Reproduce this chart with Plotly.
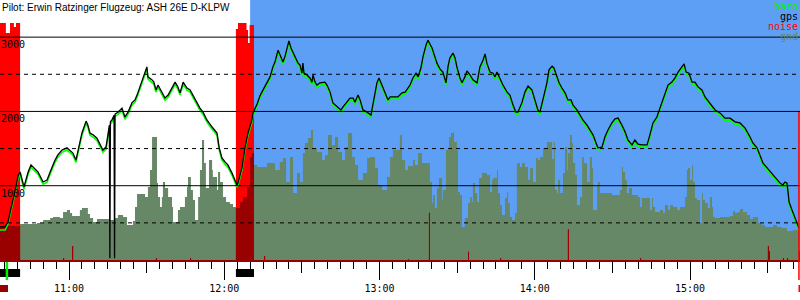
import numpy as np
import plotly.graph_objects as go
from datetime import datetime, timedelta

# ---------------- data ----------------
DAY = datetime(2012, 6, 1, 10, 0, 0)   # minutes below are counted from 10:00

title_text = "Pilot: Erwin Ratzinger Flugzeug: ASH 26E D-KLPW"
legend_items = ["baro", "gps", "noise", "gnd"]

# GPS fixes: minutes after 10:00, gps altitude [m], baro altitude [m]
fix_min = [33.3, 35.3, 36.4, 38.0, 39.5, 40.3, 41.1, 42.6, 44.2, 45.3, 46.1, 48.0, 50.0, 51.5, 52.7, 53.8,
           54.6, 55.7, 57.3, 59.2, 60.4, 61.5, 62.7, 63.9, 65.0, 66.6, 67.3, 68.1, 69.3, 70.8, 72.0, 73.1,
           74.3, 75.1, 75.6, 75.8, 76.0, 76.6, 77.4, 77.6, 77.8, 78.9, 80.5, 81.6, 82.8, 84.3, 85.5, 86.3,
           87.4, 88.2, 89.4, 90.1, 90.5, 92.1, 92.8, 93.6, 94.4, 95.9, 97.1, 98.3, 99.8, 101.0, 102.1, 102.9,
           104.1, 105.6, 106.8, 107.9, 109.5, 110.6, 111.8, 113.3, 115.3, 117.2, 118.0, 119.1, 120.3, 121.4,
           123.0, 124.1, 124.9, 125.3, 126.9, 128.0, 129.2, 130.7, 131.1, 132.7, 133.8, 135.0, 136.5, 137.7,
           138.8, 139.6, 140.8, 141.5, 142.3, 142.7, 143.5, 144.2, 145.0, 145.8, 146.6, 147.3, 148.5, 149.3,
           150.0, 150.4, 150.8, 152.0, 153.1, 153.9, 154.3, 155.1, 155.8, 157.0, 158.9, 159.7, 160.9, 162.0,
           163.6, 165.1, 165.9, 167.4, 168.6, 169.8, 170.5, 171.7, 172.5, 173.6, 175.2, 176.7, 177.5, 178.3,
           179.0, 179.8, 180.6, 182.1, 183.3, 184.1, 186.0, 187.1, 188.7, 189.9, 191.8, 192.9, 194.1, 194.9,
           196.0, 196.8, 198.0, 198.7, 200.3, 201.4, 202.2, 203.4, 204.5, 205.7, 206.5, 207.2, 208.4, 209.2,
           209.9, 211.1, 211.9, 213.0, 213.8, 215.0, 216.1, 217.7, 218.8, 220.0, 220.8, 221.5, 222.7, 223.9,
           224.6, 225.4, 226.6, 227.7, 229.3, 230.4, 231.6, 232.7, 233.5, 235.1, 236.2, 237.4, 238.9, 240.1,
           241.2, 242.0, 243.2, 244.7, 245.5, 246.7, 247.4, 248.6, 249.4, 250.5, 251.7, 252.8, 254.0, 254.8,
           256.3, 257.5, 258.6, 260.2, 261.3, 262.5, 263.7, 264.4, 266.0, 267.1, 268.3, 269.8, 271.0, 272.2,
           273.7, 274.9, 276.0, 277.6, 278.7, 279.9, 281.4, 283.4, 284.5, 285.7, 287.2, 288.4, 289.6, 290.3,
           291.5, 293.0, 294.2, 295.4, 296.9, 297.7, 298.5, 299.6, 300.8, 301.9, 303.1, 304.6, 305.8, 307.7,
           309.7, 311.6, 313.5, 315.5, 317.4, 319.3, 321.3, 323.2, 324.3, 325.9, 327.0, 328.2, 329.8, 331.7,
           333.6, 334.8, 335.9, 336.7, 337.5, 337.9, 338.3, 339.4, 340.6, 341.4, 342.1]
gps_alt = [445, 445, 510, 740, 985, 1130, 1185, 985, 1185, 1280, 1250, 1185, 1050, 1075, 1185, 1280,
           1345, 1415, 1480, 1510, 1480, 1440, 1345, 1520, 1710, 1870, 1815, 1710, 1685, 1640, 1550, 1480,
           1520, 1685, 1815, 25, 1860, 1885, 1950, 25, 1965, 1990, 2045, 1925, 1990, 2115, 2155, 2220,
           2330, 2425, 2560, 2600, 2465, 2425, 2395, 2290, 2355, 2260, 2180, 2220, 2315, 2395, 2330, 2250,
           2395, 2315, 2290, 2220, 2115, 2045, 1990, 1885, 1790, 1710, 1520, 1375, 1320, 1280,
           1170, 1075, 1010, 1035, 1250, 1510, 1710, 1885, 1980, 2100, 2210, 2290, 2385, 2465,
           2600, 2665, 2825, 2760, 2690, 2665, 2745, 2855, 2950, 2855, 2800, 2735, 2650, 2625,
           2515, 2650, 2515, 2490, 2450, 2395, 2490, 2395, 2355, 2385, 2395, 2355, 2260, 2115,
           2060, 2020, 2060, 2125, 2180, 2180, 2125, 2220, 2155, 2020, 1990, 1950, 2115, 2250,
           2385, 2450, 2385, 2260, 2155, 2195, 2195, 2195, 2250, 2260, 2355, 2450, 2515, 2465,
           2585, 2735, 2895, 2960, 2855, 2735, 2650, 2570, 2530, 2385, 2610, 2720, 2785, 2720,
           2600, 2450, 2385, 2465, 2545, 2490, 2425, 2385, 2600, 2690, 2775, 2650, 2530, 2515,
           2465, 2530, 2425, 2355, 2260, 2220, 2085, 1990, 1990, 2125, 2260, 2340, 2290, 2155,
           2020, 1990, 2155, 2385, 2560, 2610, 2585, 2450, 2385, 2315, 2250, 2155, 2155, 2085,
           2020, 1950, 1885, 1815, 1750, 1685, 1575, 1510, 1520, 1655, 1750, 1845, 1900, 1910,
           1815, 1725, 1615, 1550, 1615, 1560, 1550, 1550, 1685, 1845, 1925, 2045, 2180, 2260,
           2355, 2395, 2450, 2530, 2600, 2640, 2530, 2515, 2395, 2395, 2330, 2290, 2195, 2115,
           2020, 1980, 1910, 1910, 1860, 1845, 1775, 1655, 1575, 1510, 1415, 1305, 1240, 1160,
           1075, 1035, 1010, 1050, 1035, 940, 780, 675, 565, 500, 430]
baro_alt = [404, 404, 480, 710, 955, 1100, 1155, 955, 1155, 1250, 1220, 1155, 1020, 1045, 1155, 1250,
            1315, 1385, 1450, 1480, 1450, 1410, 1315, 1490, 1680, 1840, 1785, 1680, 1655, 1610, 1520, 1450,
            1490, 1655, 1785, 1800, 1830, 1855, 1920, 1925, 1935, 1960, 2015, 1895, 1960, 2085, 2125, 2190,
            2300, 2395, 2530, 2570, 2435, 2395, 2365, 2260, 2325, 2230, 2150, 2190, 2285, 2365, 2300, 2220,
            2365, 2285, 2260, 2190, 2085, 2015, 1960, 1855, 1760, 1680, 1490, 1345, 1290, 1250,
            1140, 1045, 980, 1005, 1220, 1480, 1680, 1855, 1950, 2070, 2180, 2260, 2355, 2435,
            2570, 2635, 2795, 2730, 2660, 2635, 2715, 2825, 2920, 2825, 2770, 2705, 2620, 2595,
            2485, 2620, 2485, 2460, 2420, 2365, 2460, 2365, 2325, 2355, 2365, 2325, 2230, 2085,
            2030, 1990, 2030, 2095, 2150, 2150, 2095, 2190, 2125, 1990, 1960, 1920, 2085, 2220,
            2355, 2420, 2355, 2230, 2125, 2165, 2165, 2165, 2220, 2230, 2325, 2420, 2485, 2435,
            2555, 2705, 2865, 2930, 2825, 2705, 2620, 2540, 2500, 2355, 2580, 2690, 2755, 2690,
            2570, 2420, 2355, 2435, 2515, 2460, 2395, 2355, 2570, 2660, 2745, 2620, 2500, 2485,
            2435, 2500, 2395, 2325, 2230, 2190, 2055, 1960, 1960, 2095, 2230, 2310, 2260, 2125,
            1990, 1960, 2125, 2355, 2530, 2580, 2555, 2420, 2355, 2285, 2220, 2125, 2125, 2055,
            1990, 1920, 1855, 1785, 1720, 1655, 1545, 1480, 1490, 1625, 1720, 1815, 1870, 1880,
            1785, 1695, 1585, 1520, 1585, 1530, 1520, 1520, 1655, 1815, 1895, 2015, 2150, 2230,
            2325, 2365, 2420, 2500, 2570, 2610, 2500, 2485, 2365, 2365, 2300, 2260, 2165, 2085,
            1990, 1950, 1880, 1880, 1830, 1815, 1745, 1625, 1545, 1480, 1385, 1275, 1210, 1130,
            1045, 1005, 980, 1020, 1005, 910, 750, 645, 535, 470, 400]

# terrain height under the track (step values starting at each time)
gnd_min = [33.3, 41.1, 47.6, 50.0, 52.7, 53.8, 56.5, 57.7, 59.2, 60.4, 61.2, 64.2, 65.0, 67.3, 68.1, 69.3,
           70.8, 75.8, 77.8, 78.9, 80.9, 82.4, 84.7, 85.5, 86.3, 89.4, 90.5, 91.3, 92.1, 94.0, 94.4, 95.2,
           95.9, 96.3, 97.1, 98.3, 99.8, 100.2, 102.1, 102.9, 104.8, 105.6, 106.0, 107.1, 107.9, 108.7,
           109.9, 110.6, 111.4, 112.2, 112.9, 114.1, 115.3, 115.6, 117.2, 117.6, 118.4, 119.5, 120.7, 122.2,
           123.4, 124.5, 126.1, 127.2, 128.8, 130.0, 130.7, 131.5, 132.7, 136.5, 139.6, 141.5, 142.7, 143.9,
           145.4, 146.6, 148.1, 149.3, 150.4, 151.2, 152.4, 153.5, 154.3, 155.8, 157.8, 158.9, 160.1, 161.6,
           162.8, 164.0, 165.5, 166.7, 167.8, 169.4, 170.5, 171.7, 173.6, 175.2, 176.3, 178.3, 179.4, 181.0,
           182.9, 184.1, 185.2, 187.9, 188.7, 189.9, 191.0, 193.0, 193.7, 194.9, 196.4, 199.5, 200.3, 200.7,
           201.4, 202.2, 203.0, 204.2, 204.5, 205.7, 206.9, 207.6, 208.4, 208.8, 209.9, 210.3, 211.1, 211.9,
           213.0, 214.2, 215.0, 215.7, 216.1, 216.9, 217.7, 218.5, 219.6, 221.5, 222.7, 223.5, 223.9, 225.4,
           225.8, 226.6, 227.3, 228.5, 229.3, 229.7, 230.4, 231.2, 232.4, 233.1, 234.3, 235.1, 236.2, 237.4,
           238.2, 239.3, 240.5, 241.3, 242.0, 243.2, 244.7, 246.7, 247.4, 247.8, 248.6, 249.0, 249.8, 250.9,
           251.7, 252.5, 252.8, 253.6, 254.4, 254.8, 255.6, 256.3, 257.5, 258.3, 259.0, 260.2, 261.3, 262.1,
           262.5, 264.1, 264.4, 265.2, 269.8, 272.9, 273.7, 274.1, 274.9, 275.6, 276.4, 277.6, 279.9, 280.7,
           281.4, 284.5, 285.3, 285.7, 286.5, 288.4, 289.6, 290.3, 291.5, 292.3, 293.4, 295.0, 296.1, 298.1,
           298.8, 299.2, 300.0, 300.8, 301.2, 301.9, 302.7, 303.9, 304.6, 305.0, 305.8, 306.9, 307.7, 308.5,
           308.9, 309.7, 311.6, 315.5, 316.6, 317.4, 318.5, 319.3, 320.5, 322.0, 323.2, 324.3, 326.3, 327.8,
           329.0, 332.1, 333.6, 335.5, 337.5, 339.8, 341.4, 342.5]
gnd_alt = [458, 485, 498, 538, 565, 579, 565, 646, 673, 633, 592, 673, 700, 619, 565, 512,
           552, 538, 565, 606, 579, 471, 525, 713, 888, 848, 983, 1211, 1656, 1037, 848, 713,
           848, 1050, 969, 848, 713, 512, 673, 713, 848, 983, 1117, 942, 808, 538,
           848, 1211, 1615, 1306, 969, 1346, 1211, 1117, 942, 1185, 1050, 848, 781, 754,
           713, 700, 781, 848, 983, 1387, 1440, 1279, 1252, 1306, 1211, 1319, 1373, 1050,
           1387, 902, 1171, 1050, 1440, 1575, 1642, 1750, 1508, 1454, 1346, 1413, 1683, 1548,
           1656, 1454, 1346, 1521, 1710, 1387, 1279, 1077, 1171, 1373, 1387, 1238, 1010, 942,
           1117, 1387, 1481, 1683, 1346, 1211, 1265, 1346, 1279, 1440, 1306, 1050, 767, 875,
           700, 969, 1104, 808, 942, 1481, 1656, 1710, 1723, 1588, 1481, 915, 875, 444,
           565, 767, 848, 781, 1037, 902, 781, 1104, 1171, 1144, 915, 1077, 1104, 1211,
           902, 740, 606, 835, 915, 767, 579, 538, 633, 1306, 1252, 1306, 1252, 1077,
           1238, 1050, 1373, 1346, 1387, 1508, 1588, 1360, 1588, 942, 902, 1077, 902, 1171,
           1521, 1211, 1440, 1683, 1575, 1306, 1144, 740, 848, 1387, 1306, 1050, 1387, 1238,
           673, 1010, 1050, 902, 875, 942, 1252, 1185, 1077, 902, 969, 875, 848, 713,
           835, 673, 835, 713, 646, 673, 633, 740, 673, 740, 713, 673, 713, 848,
           1211, 1238, 1077, 1279, 1050, 835, 808, 498, 902, 808, 767, 700, 848, 713,
           579, 565, 579, 592, 660, 633, 646, 687, 646, 606, 552, 579, 498, 471,
           444, 471, 444, 431, 390, 404, 431, 431]

# engine noise level (step values starting at each time)
noise_min = [33.3, 35.6, 37.2, 38.7, 39.5, 41.1, 57.7, 58.1, 61.2, 61.6, 93.6, 94.0, 106.8, 107.2,
             124.5, 125.3, 128.6, 129.2, 129.8, 131.5, 135.4, 135.8, 191.0, 191.4, 199.1, 199.5,
             214.2, 214.6, 226.6, 227.0, 252.8, 253.2, 280.7, 281.1, 330.1, 330.5, 330.9, 335.9, 336.3,
             337.5, 337.9, 342.1, 342.5]
noise_val = [3190, 3055, 3190, 3135, 3190, 0, 27, 0, 190, 0, 27, 0, 27, 0,
             3110, 3190, 3095, 2920, 3165, 0, 55, 0, 15, 0, 635, 0,
             110, 0, 27, 0, 415, 0, 27, 0, 190, 120, 0, 27, 0,
             27, 0, 120, 0]

engine_runs = [(33.3, 41.1), (124.5, 131.5)]   # engine running (lower strip)
takeoff_min = 36.0
task_start_min = 130.0
cursor_min = 342.1
view_min = (33.33, 342.51)

grid_solid = [1000, 2000, 3000]
grid_dashed = [500, 1500, 2500]

# ---------------- helpers ----------------
def tm(m):
    return DAY + timedelta(minutes=float(m))

def times(ms):
    return [tm(m) for m in ms]

def step_eval(ts, vs, q):
    ts = np.asarray(ts, float)
    vs = np.asarray(vs, float)
    idx = np.clip(np.searchsorted(ts, q, side="right") - 1, 0, len(vs) - 1)
    out = vs[idx].copy()
    out[q < ts[0]] = 0
    return out

bp = np.union1d(noise_min, gnd_min)
overlap = np.minimum(step_eval(noise_min, noise_val, bp), step_eval(gnd_min, gnd_alt, bp))

# ---------------- figure ----------------
MONO = "DejaVu Sans Mono"
H = 300.0
fig = go.Figure()

fig.add_trace(go.Scatter(x=times(gnd_min), y=gnd_alt, mode="lines",
                         line=dict(width=0, shape="hv"), fill="tozeroy",
                         fillcolor="#668866", hoverinfo="skip"))
fig.add_trace(go.Scatter(x=times(noise_min), y=noise_val, mode="lines",
                         line=dict(width=0, shape="hv"), fill="tozeroy",
                         fillcolor="#ff0000", hoverinfo="skip"))
fig.add_trace(go.Scatter(x=times(bp), y=overlap, mode="lines",
                         line=dict(width=0, shape="hv"), fill="tozeroy",
                         fillcolor="#990000", hoverinfo="skip"))
fig.add_trace(go.Scatter(x=times(fix_min), y=baro_alt, mode="lines",
                         line=dict(color="#00ff00", width=1.6), hoverinfo="skip"))
fig.add_trace(go.Scatter(x=times(fix_min), y=gps_alt, mode="lines",
                         line=dict(color="black", width=1.3), hoverinfo="skip"))
# carrier for the half-hour tick axis
fig.add_trace(go.Scatter(x=[tm(view_min[0]), tm(view_min[1])], y=[0, 0], mode="lines",
                         line=dict(width=0), xaxis="x2", yaxis="y", hoverinfo="skip"))

shapes = []
shapes.append(dict(type="rect", xref="x", yref="y domain", x0=tm(task_start_min), x1=tm(view_min[1]),
                   y0=0, y1=1, fillcolor="#5e9ff6", line=dict(width=0), layer="below"))
for lv in grid_solid:
    shapes.append(dict(type="line", xref="paper", yref="y", x0=0, x1=1, y0=lv, y1=lv,
                       line=dict(color="black", width=1), layer="above"))
for lv in grid_dashed:
    shapes.append(dict(type="line", xref="paper", yref="y", x0=0, x1=1, y0=lv, y1=lv,
                       line=dict(color="black", width=1, dash="4px,4px"), layer="above"))
for a, b in engine_runs:
    shapes.append(dict(type="rect", xref="x", yref="paper", x0=tm(a), x1=tm(b),
                       y0=1 - 277 / H, y1=1 - 269 / H, fillcolor="black", line=dict(width=0)))
shapes.append(dict(type="line", xref="x", yref="paper", x0=tm(takeoff_min), x1=tm(takeoff_min),
                   y0=1 - 280 / H, y1=1 - 262 / H, line=dict(color="#00ee00", width=2.5)))
shapes.append(dict(type="line", xref="x", yref="paper", x0=tm(cursor_min), x1=tm(cursor_min),
                   y0=1 - 280 / H, y1=1 - 112 / H, line=dict(color="#ff0000", width=1.5), layer="above"))
shapes.append(dict(type="rect", xref="paper", yref="paper", x0=0, x1=8 / 800,
                   y0=1 - 292 / H, y1=1 - 285 / H, fillcolor="#990000", line=dict(width=0)))
shapes.append(dict(type="rect", xref="paper", yref="paper", x0=798.5 / 800, x1=1,
                   y0=1 - 292 / H, y1=1 - 285 / H, fillcolor="#ff0000", line=dict(width=0)))

annotations = []
annotations.append(dict(text=title_text, xref="paper", yref="paper", x=0, y=1, xanchor="left",
                        yanchor="top", showarrow=False, xshift=0, yshift=0,
                        font=dict(family="Liberation Sans", size=10, color="black")))
leg_colors = ["#00ee00", "black", "#ff0000", "#668866"]
for i, (name, col) in enumerate(zip(legend_items, leg_colors)):
    annotations.append(dict(text=name, xref="paper", yref="paper", x=1, y=1 - (6.5 + 10 * i) / H,
                            xanchor="right", yanchor="middle", showarrow=False,
                            font=dict(family=MONO, size=10, color=col)))
for lv in grid_solid:
    annotations.append(dict(text=str(lv), xref="paper", yref="y", x=0, y=lv, xanchor="left",
                            yanchor="top", showarrow=False, xshift=-1, yshift=0,
                            font=dict(family=MONO, size=10, color="black")))

xr = [tm(view_min[0]), tm(view_min[1])]
fig.update_layout(
    width=800, height=300, margin=dict(l=0, r=0, t=0, b=0),
    plot_bgcolor="white", paper_bgcolor="white", showlegend=False,
    shapes=shapes, annotations=annotations,
    xaxis=dict(type="date", range=xr, domain=[0, 1], anchor="y", showgrid=False, zeroline=False,
               showline=True, linecolor="#990000", linewidth=2,
               ticks="outside", ticklen=18, tickwidth=1, tickcolor="black",
               tick0="2000-01-01", dtick=3600000, tickformat="%H:%M",
               tickfont=dict(family=MONO, size=10, color="black"),
               minor=dict(dtick=300000, ticks="outside", ticklen=7, tickwidth=1,
                          tickcolor="black", showgrid=False)),
    xaxis2=dict(type="date", range=xr, overlaying="x", anchor="y", side="bottom",
                showgrid=False, zeroline=False, showline=False, showticklabels=False,
                ticks="outside", ticklen=12, tickwidth=1, tickcolor="black",
                tick0="2000-01-01", dtick=1800000),
    yaxis=dict(domain=[40 / H, 1], range=[0, 3500], showgrid=False, zeroline=False,
               showline=False, showticklabels=False, ticks=""),
)

fig.write_html("out.html")
